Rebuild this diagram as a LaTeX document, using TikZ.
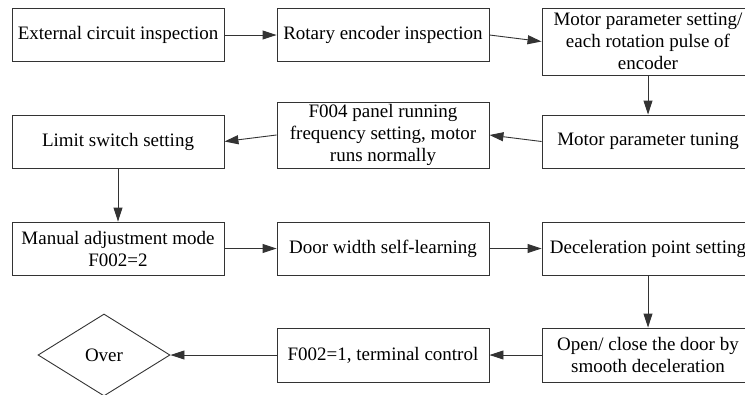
\documentclass[tikz,border=0pt]{standalone}
\usepackage{fontspec}
\setmainfont{Liberation Serif}
\usetikzlibrary{arrows.meta,shapes.geometric}
\begin{document}
\begin{tikzpicture}[x=1pt,y=-1pt,
  box/.style={draw=black!80, line width=0.9pt, rectangle, minimum width=212pt, minimum height=53pt, inner sep=0pt, align=center, font=\fontsize{19}{22}\selectfont},
  tallbox/.style={box, minimum height=67pt},
  conn/.style={draw=black!80, line width=0.9pt, -{Triangle[length=14pt,width=9pt]}},
  endd/.style={draw=black!80, line width=0.9pt, diamond, minimum width=132pt, minimum height=82pt, inner sep=0pt, font=\fontsize{19}{22}\selectfont}]
\useasboundingbox (0,0) rectangle (745,394);
\begin{scope}
\clip (0,0) rectangle (745,394);
\node[box] (b1) at (118,35) {External circuit inspection};
\node[box] (b2) at (383,35) {Rotary encoder inspection};
\node[tallbox] (b3) at (648,41.5) {Motor parameter setting/\\each rotation pulse of\\encoder};
\node[box] (b4) at (648,141.5) {Motor parameter tuning};
\node[box, minimum height=66pt] (b5) at (383,135) {F004 panel running\\frequency setting, motor\\runs normally};
\node[box] (b6) at (118,141.5) {Limit switch setting};
\node[box] (b7) at (118,248.5) {Manual adjustment mode\\F002=2};
\node[box] (b8) at (383,248.5) {Door width self-learning};
\node[box] (b9) at (648,248.5) {Deceleration point setting};
\node[box, minimum height=54pt] (b10) at (648,355) {Open/ close the door by\\smooth deceleration};
\node[box, minimum height=54pt] (b11) at (383,355) {F002=1, terminal control};
\node[endd] (over) at (104,355) {Over};
\draw[conn] (b1) -- (b2);
\draw[conn] (b2.east) -- (b3.west);
\draw[conn] (b3) -- (b4);
\draw[conn] (b4.west) -- (b5.east);
\draw[conn] (b5.west) -- (b6.east);
\draw[conn] (b6) -- (b7);
\draw[conn] (b7) -- (b8);
\draw[conn] (b8) -- (b9);
\draw[conn] (b9) -- (b10);
\draw[conn] (b10) -- (b11);
\draw[conn] (b11.west) -- (over.east);
\end{scope}
\end{tikzpicture}
\end{document}
